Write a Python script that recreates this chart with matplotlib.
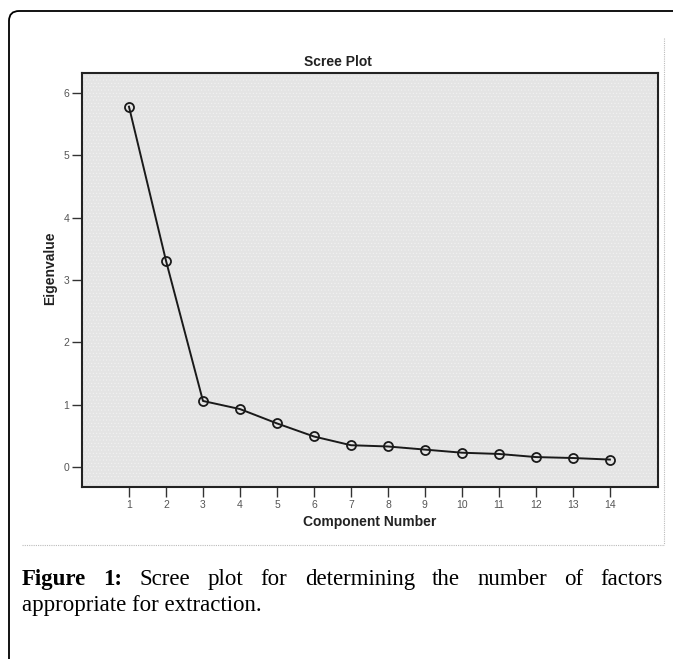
import matplotlib.pyplot as plt
from matplotlib.patches import FancyBboxPatch
from matplotlib.lines import Line2D

W, H = 673, 659

components = [1, 2, 3, 4, 5, 6, 7, 8, 9, 10, 11, 12, 13, 14]
eigenvalues = [5.78, 3.31, 1.06, 0.93, 0.70, 0.49, 0.35, 0.33, 0.28, 0.23, 0.21, 0.16, 0.145, 0.12]
y_ticks = [0, 1, 2, 3, 4, 5, 6]

caption_line1 = ["Figure", "1:", "Scree", "plot", "for", "determining", "the", "number", "of", "factors"]
caption_line2 = "appropriate for extraction."

sans = ['Liberation Sans Narrow', 'Liberation Sans', 'DejaVu Sans']
serif = ['Liberation Serif', 'DejaVu Serif']


def fx(x):
    return x / W


def fy(y):
    return 1 - y / H


plt.rcParams['hatch.linewidth'] = 0.4
fig = plt.figure(figsize=(W / 100, H / 100), dpi=100)
fig.patch.set_facecolor('white')

# outer box, rounded top-left corner, runs off right and bottom
box = FancyBboxPatch((fx(9), fy(720)), fx(800), fy(11) - fy(720),
                     boxstyle="round,pad=0,rounding_size=0.015",
                     transform=fig.transFigure, fill=False, edgecolor='black', lw=1.3)
fig.add_artist(box)

# dotted frame of the embedded image
fig.add_artist(Line2D([fx(664), fx(664)], [fy(38), fy(545)], transform=fig.transFigure,
                      color='#bbbbbb', lw=0.8, ls=(0, (1, 1))))
fig.add_artist(Line2D([fx(22), fx(664)], [fy(545), fy(545)], transform=fig.transFigure,
                      color='#bbbbbb', lw=0.8, ls=(0, (1, 1))))

ax = fig.add_axes([fx(82), fy(487), fx(658) - fx(82), fy(73) - fy(487)])
ax.set_facecolor('#e4e4e4')
ax.patch.set_hatch('.....')
ax.patch.set_edgecolor('#f2f2f2')
ax.plot(components, eigenvalues, color='#1a1a1a', lw=1.4, marker='o', ms=6.5,
        mfc='none', mec='#1a1a1a', mew=1.3)

ax.set_xlim(-0.27, 15.3)
ax.set_ylim(-0.32, 6.32)
ax.set_xticks(components)
ax.set_yticks(y_ticks)
ax.tick_params(axis='both', direction='out', length=7, width=1, color='#333333',
               labelsize=7.5, labelcolor='#555555', pad=2)
for lab in ax.get_xticklabels() + ax.get_yticklabels():
    lab.set_family(sans)
for s in ax.spines.values():
    s.set_linewidth(1.5)
    s.set_color('#222222')

fig.text(fx(338), fy(62), "Scree Plot", ha='center', va='center', fontsize=10,
         fontweight='bold', family=sans, color='#222222')
fig.text(fx(370), fy(522), "Component Number", ha='center', va='center', fontsize=10,
         fontweight='bold', family=sans, color='#222222')
fig.text(fx(50), fy(268), "Eigenvalue", ha='center', va='center', fontsize=10,
         fontweight='bold', family=sans, color='#222222', rotation=90)

# justified first caption line
fig.canvas.draw()
renderer = fig.canvas.get_renderer()
words = []
for i, w in enumerate(caption_line1):
    bold = i < 2
    t = fig.text(0, fy(585), w, ha='left', va='baseline', fontsize=16.5, family=serif,
                 fontweight='bold' if bold else 'normal', color='black')
    words.append(t)
widths = [t.get_window_extent(renderer).width for t in words]
left, right = 22, 663
gap = (right - left - sum(widths)) / (len(words) - 1)
x = left
for t, wd in zip(words, widths):
    t.set_x(fx(x))
    x += wd + gap

fig.text(fx(22), fy(611), caption_line2, ha='left', va='baseline', fontsize=16.5,
         family=serif, color='black')

fig.savefig('out.png', dpi=100)
